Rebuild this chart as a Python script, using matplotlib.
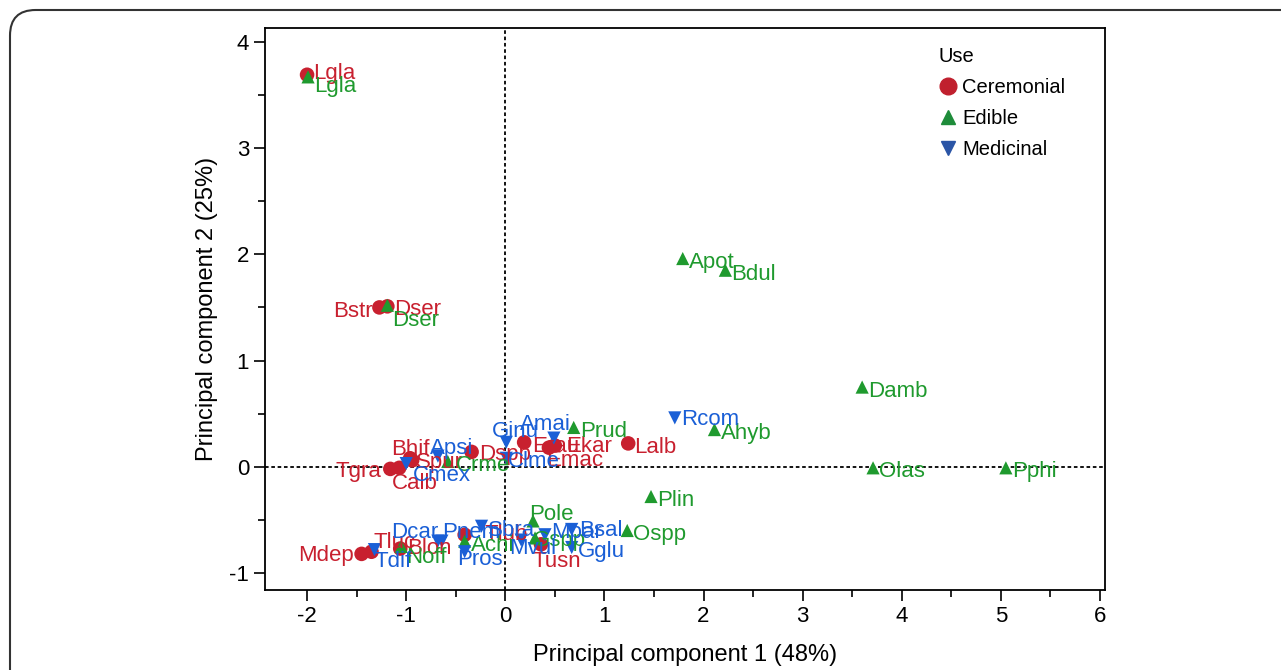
import matplotlib.pyplot as plt
from matplotlib.lines import Line2D
from matplotlib.patches import FancyBboxPatch

plt.rcParams['font.family'] = ['Liberation Sans', 'DejaVu Sans']
plt.rcParams['axes.unicode_minus'] = False

# PCA scores by use group
cer_names = ["Lgla", "Bstr", "Dser", "Bhif", "Spur", "Tgra", "Calb", "Dspp",
             "Erau", "Ekar", "Emac", "Lalb", "Mdep", "Tluc", "Blon", "Tlub", "Tusn"]
cer_pc1 = [-2.00, -1.27, -1.19, -0.96, -0.94, -1.16, -1.07, -0.34,
           0.19, 0.50, 0.44, 1.24, -1.45, -1.35, -1.06, -0.41, 0.36]
cer_pc2 = [3.69, 1.50, 1.51, 0.08, 0.06, -0.02, -0.01, 0.14,
           0.23, 0.20, 0.18, 0.22, -0.82, -0.80, -0.77, -0.64, -0.73]

edi_names = ["Lgla", "Dser", "Apot", "Bdul", "Damb", "Ahyb", "Prud", "Olas",
             "Pphi", "Plin", "Ospp", "Pole", "Crme", "Noff", "Achi", "Gspp"]
edi_pc1 = [-1.99, -1.19, 1.79, 2.22, 3.60, 2.11, 0.69, 3.71,
           5.05, 1.47, 1.23, 0.28, -0.58, -1.05, -0.41, 0.30]
edi_pc2 = [3.67, 1.52, 1.96, 1.85, 0.75, 0.35, 0.37, -0.01,
           -0.01, -0.28, -0.60, -0.51, 0.05, -0.75, -0.70, -0.67]

med_names = ["Rcom", "Amai", "Ginu", "Apsi", "Cmex", "Clme", "Dcar", "Pnem",
             "Sbra", "Pros", "Tdif", "Bsal", "Gglu", "Mvul", "Mpar"]
med_pc1 = [1.71, 0.49, 0.01, -0.68, -1.00, 0.01, -0.68, -0.64,
           -0.24, -0.41, -1.32, 0.67, 0.67, 0.16, 0.40]
med_pc2 = [0.46, 0.27, 0.23, 0.10, 0.03, 0.08, -0.70, -0.70,
           -0.56, -0.80, -0.78, -0.59, -0.76, -0.69, -0.64]

RED = "#c8202f"
GREEN = "#1f9a2e"
BLUE = "#1a5fd6"

# label offsets in pixels (dx, dy, ha); default is right of the marker
offsets = {
    ("c", "Lgla"): (6, 1, "left"), ("e", "Lgla"): (6, -10, "left"),
    ("c", "Bstr"): (-7, -4, "right"), ("c", "Dser"): (7, -3, "left"),
    ("e", "Dser"): (5, -15, "left"), ("c", "Bhif"): (0, 9, "center"),
    ("c", "Spur"): (4, -2, "left"), ("c", "Tgra"): (-9, -3, "right"),
    ("c", "Calb"): (16, -16, "center"), ("c", "Dspp"): (8, -3, "left"),
    ("c", "Erau"): (8, -4, "left"), ("c", "Ekar"): (11, -1, "left"),
    ("c", "Emac"): (-3, -13, "left"), ("c", "Mdep"): (-8, -2, "right"),
    ("c", "Tluc"): (2, 9, "left"), ("c", "Blon"): (7, 0, "left"),
    ("c", "Tusn"): (16, -17, "center"), ("c", "Tlub"): (20, 0, "left"),
    ("e", "Pole"): (-4, 6, "left"), ("e", "Crme"): (8, -4, "left"),
    ("e", "Noff"): (5, -11, "left"), ("e", "Gspp"): (-2, -3, "left"),
    ("m", "Rcom"): (6, -2, "left"), ("m", "Amai"): (-8, 14, "center"),
    ("m", "Ginu"): (9, 11, "center"), ("m", "Apsi"): (14, 8, "center"),
    ("m", "Cmex"): (7, -12, "left"), ("m", "Clme"): (2, -3, "left"),
    ("m", "Dcar"): (0, 9, "right"), ("m", "Pnem"): (0, 9, "left"),
    ("m", "Pros"): (-8, -8, "left"), ("m", "Tdif"): (0, -12, "left"),
    ("m", "Bsal"): (7, -1, "left"), ("m", "Mvul"): (-12, -8, "left"),
    ("m", "Mpar"): (6, 2, "left"),
}

fig = plt.figure(figsize=(12.81, 6.70), dpi=100)
ax = fig.add_axes([0.2069, 0.1194, 0.6557, 0.8388])

# rounded frame around the whole figure
frame = FancyBboxPatch((10 / 1281, -0.2), 1.2, 1.2 - 10 / 670, transform=fig.transFigure,
                       boxstyle="round,pad=0,rounding_size=0.02", fill=False,
                       edgecolor="#333333", linewidth=1.5, mutation_aspect=1281 / 670)
fig.patches.append(frame)

ax.axhline(0, color="black", lw=1.3, ls=(0, (2, 1.5)), zorder=1)
ax.axvline(0, color="black", lw=1.3, ls=(0, (2, 1.5)), zorder=1)

groups = [
    ("c", cer_names, cer_pc1, cer_pc2, RED, "o", 110),
    ("e", edi_names, edi_pc1, edi_pc2, GREEN, "^", 90),
    ("m", med_names, med_pc1, med_pc2, BLUE, "v", 90),
]
for key, names, xs, ys, col, mk, size in groups:
    ax.scatter(xs, ys, s=size, marker=mk, color=col, edgecolors="none", zorder=3)
    for n, x, y in zip(names, xs, ys):
        dx, dy, ha = offsets.get((key, n), (6, -4, "left"))
        ax.annotate(n, (x, y), xytext=(dx, dy), textcoords="offset pixels",
                    ha=ha, va="center", fontsize=16, color=col, zorder=4)

ax.set_xticks(range(-2, 7))
ax.set_yticks(range(-1, 5))
ax.set_xticks([i + 0.5 for i in range(-3, 6)], minor=True)
ax.set_yticks([i + 0.5 for i in range(-2, 4)], minor=True)
ax.set_xlim(-2.424, 6.05)
ax.set_ylim(-1.16, 4.13)
ax.tick_params(which="major", direction="out", length=8, width=1.2, labelsize=16)
ax.tick_params(which="minor", direction="out", length=5, width=1.2)
for s in ax.spines.values():
    s.set_linewidth(1.3)

ax.set_xlabel("Principal component 1 (48%)", fontsize=17, labelpad=12)
ax.set_ylabel("Principal component 2 (25%)", fontsize=17, labelpad=8)

handles = [
    Line2D([], [], marker="o", ls="none", color="#c0202e", markersize=12),
    Line2D([], [], marker="^", ls="none", color="#1e8c3a", markersize=10),
    Line2D([], [], marker="v", ls="none", color="#2b55a6", markersize=10),
]
leg = ax.legend(handles, ["Ceremonial", "Edible", "Medicinal"], title="Use",
                loc="upper left", bbox_to_anchor=(0.78, 0.999), frameon=False,
                fontsize=14.5, title_fontsize=14.5, alignment="left",
                handletextpad=0.2, handlelength=1.0, labelspacing=0.6)

fig.savefig("out.png", dpi=100)
